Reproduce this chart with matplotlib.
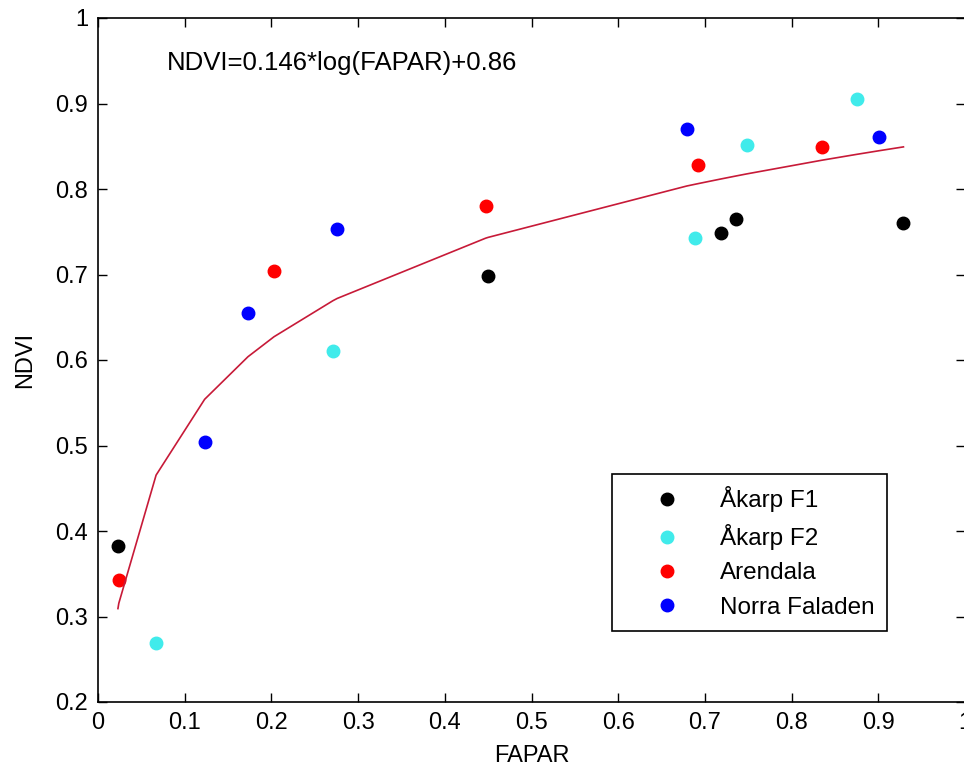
import numpy as np
import matplotlib
matplotlib.use('Agg')
import matplotlib.pyplot as plt

plt.rcParams['font.family'] = ['Liberation Sans', 'DejaVu Sans']

# Measured points, one pair of lists per site
akarp_f1_x = [0.023, 0.450, 0.718, 0.736, 0.929]
akarp_f1_y = [0.383, 0.698, 0.749, 0.765, 0.760]

akarp_f2_x = [0.067, 0.271, 0.689, 0.748, 0.875]
akarp_f2_y = [0.269, 0.611, 0.743, 0.851, 0.905]

arendala_x = [0.024, 0.203, 0.447, 0.692, 0.835]
arendala_y = [0.343, 0.704, 0.780, 0.828, 0.849]

norra_x = [0.123, 0.173, 0.276, 0.679, 0.901]
norra_y = [0.504, 0.655, 0.753, 0.870, 0.861]

# fit from the equation printed on the chart
fit_a = 0.146
fit_b = 0.86

xticks = [0, 0.1, 0.2, 0.3, 0.4, 0.5, 0.6, 0.7, 0.8, 0.9, 1]
xticklabels = ['0', '0.1', '0.2', '0.3', '0.4', '0.5', '0.6', '0.7', '0.8', '0.9', '1']
yticks = [0.2, 0.3, 0.4, 0.5, 0.6, 0.7, 0.8, 0.9, 1]
yticklabels = ['0.2', '0.3', '0.4', '0.5', '0.6', '0.7', '0.8', '0.9', '1']

FS = 17

fig = plt.figure(figsize=(9.64, 7.71), dpi=100)
ax = fig.add_axes([98/964, 69/771, 867/964, 684/771])

ms = 9
ax.plot(akarp_f1_x, akarp_f1_y, 'o', color='k', ms=ms, label='Åkarp F1')
ax.plot(akarp_f2_x, akarp_f2_y, 'o', color=(0.25, 0.92, 0.92), ms=ms, label='Åkarp F2')
ax.plot(arendala_x, arendala_y, 'o', color='r', ms=ms, label='Arendala')
ax.plot(norra_x, norra_y, 'o', color='b', ms=ms, label='Norra Faladen')

# fitted curve evaluated at the sorted measured FAPAR values
all_x = np.sort(np.array(akarp_f1_x + akarp_f2_x + arendala_x + norra_x))
ax.plot(all_x, fit_a*np.log(all_x) + fit_b, '-', color=(0.78, 0.1, 0.22), lw=1.2)

ax.text(0.08, 0.947, 'NDVI=0.146*log(FAPAR)+0.86', fontsize=18.5, va='center', ha='left')

ax.set_xlim(0, 1)
ax.set_ylim(0.2, 1)
ax.set_xticks(xticks)
ax.set_xticklabels(xticklabels)
ax.set_yticks(yticks)
ax.set_yticklabels(yticklabels)
ax.tick_params(direction='in', top=True, right=True, length=6.5, width=1,
               labelsize=FS, pad=7)
for s in ax.spines.values():
    s.set_linewidth(1.2)

ax.set_xlabel('FAPAR', fontsize=FS, labelpad=8)
ax.set_ylabel('NDVI', fontsize=FS, labelpad=14)

leg = ax.legend(loc='upper left', bbox_to_anchor=(612/964, 1 - 474/771),
                bbox_transform=fig.transFigure, prop={'size': 17.5}, frameon=True,
                fancybox=False, edgecolor='k', framealpha=1, borderpad=0.5,
                labelspacing=0.5, handlelength=3.5, handletextpad=0.45,
                borderaxespad=0)
leg.get_frame().set_linewidth(1.2)

fig.savefig('out.png', dpi=100)
